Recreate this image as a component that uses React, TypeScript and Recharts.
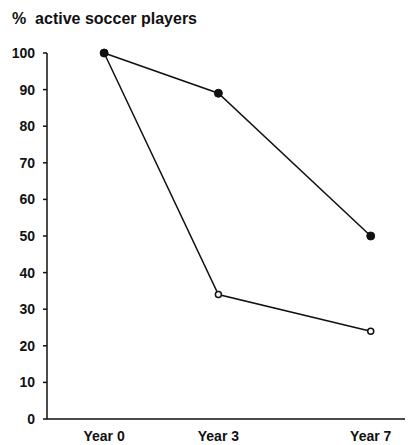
import { LineChart, Line, XAxis, YAxis } from 'recharts';

const years = [0, 3, 7];
const yearLabels = ['Year 0', 'Year 3', 'Year 7'];
const filledSeries = [100, 89, 50];
const openSeries = [100, 34, 24];
const yTicks = [0, 10, 20, 30, 40, 50, 60, 70, 80, 90, 100];

const data = years.map((year, i) => ({
  year,
  filled: filledSeries[i],
  open: openSeries[i],
}));

const font = '"Liberation Sans", Arial, sans-serif';

export default function App() {
  return (
    <div style={{ position: 'absolute', left: 0, top: 0, width: 408, height: 445, background: '#fff' }}>
      <div
        style={{
          position: 'absolute',
          left: 12,
          top: 10,
          fontFamily: font,
          fontWeight: 'bold',
          fontSize: 16,
          whiteSpace: 'pre',
          color: '#111',
        }}
      >
        {'%  active soccer players'}
      </div>
      <LineChart width={408} height={445} data={data} margin={{ top: 53, right: 3, bottom: 0, left: 0 }}>
        <XAxis
          dataKey="year"
          type="number"
          domain={[-1.5, 7.9]}
          ticks={years}
          tickFormatter={(v: number) => yearLabels[years.indexOf(v)]}
          height={26}
          tickLine={false}
          tickSize={0}
          tickMargin={12}
          stroke="#111"
          strokeWidth={1.5}
          tick={{ fill: '#111', fontFamily: font, fontWeight: 'bold', fontSize: 14 }}
        />
        <YAxis
          domain={[0, 100]}
          ticks={yTicks}
          interval={0}
          width={47}
          tickSize={4}
          tickMargin={8}
          stroke="#111"
          strokeWidth={1.5}
          tick={{ fill: '#111', fontFamily: font, fontWeight: 'bold', fontSize: 14 }}
        />
        <Line
          dataKey="open"
          stroke="#111"
          strokeWidth={1.5}
          dot={{ r: 3, fill: '#fff', stroke: '#111', strokeWidth: 1.5 }}
          activeDot={false}
          isAnimationActive={false}
        />
        <Line
          dataKey="filled"
          stroke="#111"
          strokeWidth={1.5}
          dot={{ r: 4, fill: '#111', stroke: '#111', strokeWidth: 1 }}
          activeDot={false}
          isAnimationActive={false}
        />
      </LineChart>
    </div>
  );
}
